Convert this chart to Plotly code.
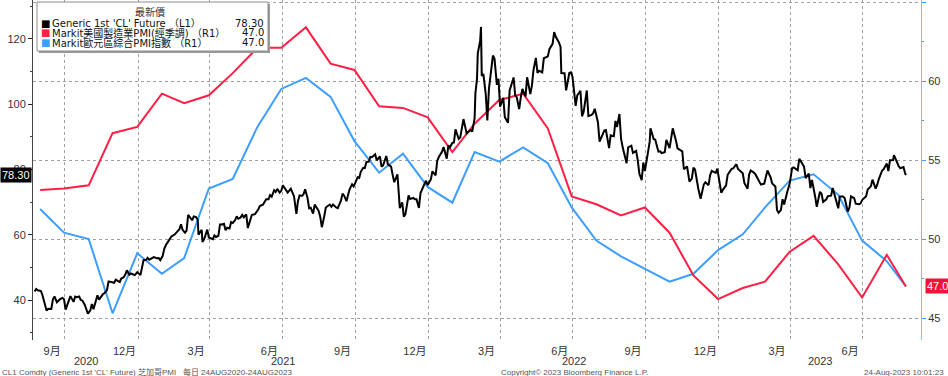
import plotly.graph_objects as go
import pandas as pd

# ---------------- data ----------------
oil_dates = [
"2020-08-24","2020-08-26","2020-08-28","2020-09-01","2020-09-03","2020-09-08","2020-09-10","2020-09-14","2020-09-16","2020-09-18",
"2020-09-21","2020-09-23","2020-09-25","2020-09-28","2020-09-30","2020-10-02","2020-10-06","2020-10-08","2020-10-12","2020-10-14",
"2020-10-16","2020-10-19","2020-10-21","2020-10-23","2020-10-26","2020-10-28","2020-10-30","2020-11-02","2020-11-04","2020-11-06",
"2020-11-09","2020-11-11","2020-11-13","2020-11-16","2020-11-18","2020-11-20","2020-11-23","2020-11-25","2020-11-30","2020-12-02",
"2020-12-04","2020-12-07","2020-12-09","2020-12-11","2020-12-14","2020-12-16","2020-12-18","2020-12-21","2020-12-23","2020-12-28",
"2020-12-31",
"2021-01-04","2021-01-06","2021-01-08","2021-01-11","2021-01-13","2021-01-15","2021-01-19","2021-01-21","2021-01-25","2021-01-27",
"2021-01-29","2021-02-01","2021-02-03","2021-02-05","2021-02-08","2021-02-10","2021-02-12","2021-02-16","2021-02-18","2021-02-22",
"2021-02-24","2021-02-26","2021-03-01","2021-03-03","2021-03-05","2021-03-08","2021-03-10","2021-03-12","2021-03-15","2021-03-17",
"2021-03-18","2021-03-22","2021-03-23","2021-03-25","2021-03-29","2021-03-31","2021-04-05","2021-04-07","2021-04-09","2021-04-12",
"2021-04-14","2021-04-16","2021-04-19","2021-04-21","2021-04-23","2021-04-26","2021-04-28","2021-04-30","2021-05-03","2021-05-05",
"2021-05-07","2021-05-10","2021-05-12","2021-05-14","2021-05-17","2021-05-19","2021-05-21","2021-05-24","2021-05-26","2021-05-28",
"2021-06-01","2021-06-03","2021-06-07","2021-06-09","2021-06-11","2021-06-14","2021-06-16","2021-06-18","2021-06-21","2021-06-23",
"2021-06-25","2021-06-28","2021-06-30","2021-07-02","2021-07-06","2021-07-08","2021-07-12","2021-07-14","2021-07-16","2021-07-19",
"2021-07-21","2021-07-23","2021-07-26","2021-07-28","2021-07-30","2021-08-02","2021-08-04","2021-08-06","2021-08-09","2021-08-11",
"2021-08-13","2021-08-16","2021-08-18","2021-08-20","2021-08-23","2021-08-25","2021-08-27","2021-08-30","2021-09-01","2021-09-03",
"2021-09-07","2021-09-09","2021-09-13","2021-09-15","2021-09-17","2021-09-20","2021-09-22","2021-09-24","2021-09-27","2021-09-29",
"2021-10-01","2021-10-04","2021-10-06","2021-10-08","2021-10-11","2021-10-13","2021-10-15","2021-10-18","2021-10-20","2021-10-22",
"2021-10-26","2021-10-28","2021-11-01","2021-11-03","2021-11-05","2021-11-09","2021-11-11","2021-11-15","2021-11-17","2021-11-19",
"2021-11-23","2021-11-26","2021-11-29","2021-12-01","2021-12-03","2021-12-07","2021-12-09","2021-12-13","2021-12-15","2021-12-17",
"2021-12-20","2021-12-22","2021-12-27","2021-12-29","2021-12-31",
"2022-01-04","2022-01-06","2022-01-10","2022-01-12","2022-01-14","2022-01-18","2022-01-20","2022-01-24","2022-01-26","2022-01-28",
"2022-01-31","2022-02-02","2022-02-04","2022-02-08","2022-02-10","2022-02-14","2022-02-16","2022-02-18","2022-02-23","2022-02-25",
"2022-02-28","2022-03-01","2022-03-03","2022-03-04","2022-03-07","2022-03-08","2022-03-09","2022-03-11","2022-03-14","2022-03-16",
"2022-03-18","2022-03-21","2022-03-23","2022-03-25","2022-03-28","2022-03-30","2022-04-01","2022-04-05","2022-04-07","2022-04-11",
"2022-04-13","2022-04-18","2022-04-20","2022-04-22","2022-04-25","2022-04-27","2022-04-29","2022-05-03","2022-05-05","2022-05-09",
"2022-05-11","2022-05-13","2022-05-16","2022-05-18","2022-05-20","2022-05-24","2022-05-26","2022-05-31","2022-06-02","2022-06-06",
"2022-06-08","2022-06-10","2022-06-14","2022-06-16","2022-06-17","2022-06-21","2022-06-23","2022-06-27","2022-06-29","2022-07-01",
"2022-07-05","2022-07-07","2022-07-11","2022-07-13","2022-07-15","2022-07-19","2022-07-21","2022-07-25","2022-07-27","2022-07-29",
"2022-08-02","2022-08-04","2022-08-08","2022-08-10","2022-08-12","2022-08-16","2022-08-18","2022-08-22","2022-08-24","2022-08-26",
"2022-08-29","2022-08-31","2022-09-02","2022-09-07","2022-09-09","2022-09-13","2022-09-15","2022-09-19","2022-09-21","2022-09-23",
"2022-09-26","2022-09-28","2022-09-30","2022-10-04","2022-10-06","2022-10-07","2022-10-11","2022-10-13","2022-10-17","2022-10-19",
"2022-10-21","2022-10-25","2022-10-27","2022-10-31","2022-11-02","2022-11-04","2022-11-08","2022-11-10","2022-11-14","2022-11-16",
"2022-11-18","2022-11-22","2022-11-25","2022-11-28","2022-11-30","2022-12-02","2022-12-06","2022-12-08","2022-12-09","2022-12-13",
"2022-12-15","2022-12-19","2022-12-21","2022-12-23","2022-12-28","2022-12-30",
"2023-01-04","2023-01-06","2023-01-10","2023-01-12","2023-01-17","2023-01-19","2023-01-23","2023-01-25","2023-01-27","2023-01-31",
"2023-02-02","2023-02-06","2023-02-08","2023-02-10","2023-02-14","2023-02-16","2023-02-21","2023-02-23","2023-02-27","2023-03-01",
"2023-03-03","2023-03-07","2023-03-09","2023-03-13","2023-03-15","2023-03-17","2023-03-20","2023-03-22","2023-03-24","2023-03-28",
"2023-03-31","2023-04-03","2023-04-05","2023-04-10","2023-04-12","2023-04-14","2023-04-18","2023-04-20","2023-04-24","2023-04-26",
"2023-04-28","2023-05-02","2023-05-04","2023-05-08","2023-05-10","2023-05-12","2023-05-16","2023-05-18","2023-05-22","2023-05-24",
"2023-05-26","2023-05-31","2023-06-02","2023-06-06","2023-06-08","2023-06-12","2023-06-14","2023-06-16","2023-06-20","2023-06-22",
"2023-06-26","2023-06-28","2023-06-30","2023-07-05","2023-07-07","2023-07-11","2023-07-13","2023-07-17","2023-07-19","2023-07-21",
"2023-07-25","2023-07-27","2023-07-31","2023-08-02","2023-08-04","2023-08-08","2023-08-09","2023-08-11","2023-08-15","2023-08-17",
"2023-08-21","2023-08-23","2023-08-24",
]
oil_prices = [
42.62,43.39,42.97,42.76,41.37,36.76,37.30,37.26,40.16,41.11,
39.31,39.93,40.25,40.60,40.22,37.05,39.57,41.19,39.43,41.04,
40.88,41.06,40.03,39.85,38.56,37.39,35.79,36.81,38.79,37.14,
40.29,41.45,40.13,41.34,41.82,42.15,43.06,45.71,45.34,45.28,
46.26,45.76,45.52,46.57,46.99,47.82,49.10,47.74,48.12,47.62,
48.52,
47.62,50.63,52.24,52.25,52.91,52.36,52.98,53.13,52.77,52.85,
52.20,53.55,55.69,56.85,57.97,58.68,59.47,60.05,60.52,61.70,
63.22,61.50,60.64,61.28,66.09,65.05,64.44,65.61,65.39,64.60,
60.00,61.55,57.76,58.56,61.56,59.16,58.65,59.77,59.32,59.70,
63.15,63.13,63.38,61.35,62.14,61.91,63.86,63.58,64.49,65.63,
64.90,65.32,66.08,65.37,66.27,62.05,63.58,66.05,66.21,66.32,
67.72,68.81,69.23,70.00,70.91,70.88,72.15,71.64,73.66,73.08,
74.05,72.91,73.47,75.16,73.37,72.94,74.10,73.13,71.81,66.42,
70.30,72.07,71.91,72.39,73.95,71.26,68.15,68.28,66.48,69.25,
68.44,67.29,65.46,62.32,65.64,68.36,68.74,69.21,68.59,69.29,
68.35,68.14,70.45,72.61,71.97,70.29,72.23,73.98,75.45,74.83,
75.88,77.62,77.43,79.35,80.52,80.44,82.28,82.44,83.87,83.76,
84.65,82.81,84.05,80.86,81.27,84.15,81.59,80.88,78.36,76.10,
78.50,68.15,69.95,65.57,66.26,72.05,70.94,71.29,70.87,70.86,
68.23,72.76,75.57,76.56,75.21,
76.99,79.46,78.23,82.64,83.82,85.43,86.90,83.31,87.35,86.82,
88.15,88.26,92.31,89.36,89.88,95.46,93.66,91.07,92.10,91.59,
95.72,103.41,107.67,115.68,119.40,123.70,108.70,109.33,103.01,95.04,
104.70,112.12,114.93,113.90,105.96,107.82,99.27,102.00,96.03,94.29,
104.25,108.21,102.75,102.07,98.54,102.02,104.69,102.41,108.26,103.09,
105.71,110.49,114.20,109.59,110.28,109.77,114.09,114.67,116.87,118.50,
122.11,120.67,118.93,117.59,109.56,109.52,104.27,109.57,109.78,108.43,
99.50,102.73,104.09,96.30,97.59,104.22,96.35,96.70,97.26,98.62,
94.42,88.54,90.76,91.93,92.09,86.53,90.50,90.23,94.89,93.06,
97.01,89.55,86.87,81.94,86.79,87.31,85.10,85.73,82.94,78.74,
76.71,82.15,79.49,86.52,88.45,92.64,89.35,89.11,85.46,85.55,
85.05,85.32,89.08,86.53,89.99,92.61,88.91,86.47,85.87,85.59,
80.08,80.95,76.28,77.24,80.55,79.98,74.25,71.46,71.02,75.39,
76.11,75.19,78.29,79.56,78.96,80.26,
72.84,73.77,75.12,78.39,80.18,80.33,81.62,80.15,79.68,78.87,
75.88,74.11,78.47,79.72,79.06,78.49,76.16,75.39,75.68,77.69,
79.68,77.58,75.72,74.80,67.61,66.74,67.64,70.90,69.26,73.20,
75.67,80.42,80.61,79.74,83.26,82.52,80.86,77.37,78.76,74.30,
76.78,71.66,68.56,73.16,72.56,70.04,70.86,71.86,71.99,74.34,
72.67,68.09,71.74,71.74,71.29,67.12,68.27,71.78,71.19,69.51,
69.37,69.56,70.64,71.79,73.86,74.83,76.89,74.15,75.35,77.07,
79.63,80.09,81.80,79.49,82.82,82.92,84.40,83.19,80.99,80.39,
80.72,78.89,78.30,
]

pmi_dates = list(pd.date_range("2020-08-31", "2023-07-31", freq="ME").strftime("%Y-%m-%d")) + ["2023-08-24"]
us_pmi = [53.1, 53.2, 53.4, 56.7, 57.1,
          59.2, 58.6, 59.1, 60.5, 62.1, 62.1, 63.4, 61.1, 60.7, 58.4, 58.3, 57.7,
          55.5, 57.3, 58.8, 59.2, 57.0, 52.7, 52.2, 51.5, 52.0, 50.4, 47.7, 46.2,
          46.9, 47.3, 49.2, 50.2, 48.4, 46.3, 49.0, 47.0]
ez_pmi = [51.9, 50.4, 50.0, 45.3, 49.1,
          47.8, 48.8, 53.2, 53.8, 57.1, 59.5, 60.2, 59.0, 56.2, 54.2, 55.4, 53.3,
          52.3, 55.5, 54.9, 55.8, 54.8, 52.0, 49.9, 48.9, 48.1, 47.3, 47.8, 49.3,
          50.3, 52.0, 53.7, 54.1, 52.8, 49.9, 48.6, 47.0]

month_tick_dates = ["2020-09-15", "2020-12-15", "2021-03-15", "2021-06-15", "2021-09-15", "2021-12-15",
                    "2022-03-15", "2022-06-15", "2022-09-15", "2022-12-15", "2023-03-15", "2023-06-15"]
month_tick_labels = ["9月", "12月", "3月", "6月", "9月", "12月", "3月", "6月", "9月", "12月", "3月", "6月"]
grid_dates = ["2020-10-01", "2021-01-01", "2021-04-01", "2021-07-01", "2021-10-01", "2022-01-01",
              "2022-04-01", "2022-07-01", "2022-10-01", "2023-01-01", "2023-04-01", "2023-07-01"]
year_labels = ["2020", "2021", "2022", "2023"]

series_names = ["Generic 1st 'CL' Future （L1）",
                "Markit美國製造業PMI(經季調) （R1）",
                "Markit歐元區綜合PMI指數 （R1）"]
legend_title = "最新價"
footer_left = "CL1 Comdty (Generic 1st 'CL' Future) 芝加哥PMI\u00a0\u00a0\u00a0每日 24AUG2020-24AUG2023"
footer_mid = "Copyright\u00a9 2023 Bloomberg Finance L.P."
footer_right = "24-Aug-2023 10:01:23"

# ---------------- style ----------------
BLACK = "#000000"
RED = "#ff1f44"
BLUE = "#3d9eff"
GRID = "#a0a0a0"
TXT = "#333333"
FONT = "Liberation Sans, Noto Sans CJK TC, sans-serif"
LEG_FONT = "DejaVu Sans, Noto Sans CJK TC, sans-serif"

x_min, x_max = "2020-08-22", "2023-09-12"
L, R, T, B = 33, 27, 0, 36
W, H = 948, 376
PW, PH = W - L - R, H - T - B

def px_x(px):
    return (px - L) / PW

def px_y(py):
    return (H - B - py) / PH

fig = go.Figure()
fig.add_trace(go.Scatter(x=pmi_dates, y=ez_pmi, mode="lines", line=dict(color=BLUE, width=2),
                         yaxis="y", hoverinfo="skip", showlegend=False))
fig.add_trace(go.Scatter(x=pmi_dates, y=us_pmi, mode="lines", line=dict(color=RED, width=2),
                         yaxis="y", hoverinfo="skip", showlegend=False))
fig.add_trace(go.Scatter(x=oil_dates, y=oil_prices, mode="lines", line=dict(color=BLACK, width=2),
                         yaxis="y2", hoverinfo="skip", showlegend=False))

fig.update_layout(
    width=W, height=H,
    margin=dict(l=L, r=R, t=T, b=B, pad=0),
    paper_bgcolor="white", plot_bgcolor="white",
    font=dict(family=FONT, size=11, color=TXT),
    showlegend=False,
    xaxis=dict(type="date", range=[x_min, x_max], tickmode="array",
               tickvals=month_tick_dates, ticktext=month_tick_labels,
               ticks="", showgrid=False, showline=False, zeroline=False,
               ticklabelstandoff=3,
               tickfont=dict(size=11, color=TXT), automargin=False,
               minor=dict(tickmode="array", tickvals=grid_dates, showgrid=True,
                          gridcolor=GRID, griddash="dot", gridwidth=1, ticks="")),
    yaxis=dict(side="right", range=[43.61, 65.13], tickmode="array",
               tickvals=[45, 50, 55, 60, 65], ticktext=["45", "50", "55", "60", ""],
               ticks="outside", ticklen=4, tickcolor=BLUE, tickwidth=1,
               showline=True, linecolor="#7fbfff", linewidth=1,
               showgrid=True, gridcolor=GRID, griddash="dot", gridwidth=1,
               zeroline=False, automargin=False, tickfont=dict(size=11, color=TXT),
               minor=dict(tickmode="linear", tick0=45, dtick=2.5, ticks="outside",
                          ticklen=2, tickcolor=BLUE, showgrid=False)),
    yaxis2=dict(overlaying="y", side="left", range=[27.74, 131.95], tickmode="array",
                tickvals=[40, 60, 80, 100, 120],
                ticks="outside", ticklen=4, tickcolor="#222", tickwidth=1,
                showline=True, linecolor="#444", linewidth=1, showgrid=False,
                zeroline=False, automargin=False, tickfont=dict(size=11, color=TXT),
                minor=dict(tickmode="linear", tick0=30, dtick=10, ticks="outside",
                           ticklen=2, tickcolor="#444", showgrid=False)),
)

annotations = []
# year labels centred on the visible part of each year
xmin_ts, xmax_ts = pd.Timestamp(x_min), pd.Timestamp(x_max)
for yl in year_labels:
    s = max(pd.Timestamp(f"{yl}-01-01"), xmin_ts)
    e = min(pd.Timestamp(f"{int(yl)+1}-01-01"), xmax_ts)
    mid = s + (e - s) / 2
    annotations.append(dict(x=mid.strftime("%Y-%m-%d %H:%M"), xref="x", y=0, yref="paper",
                            yshift=-21, yanchor="middle", text=yl, showarrow=False,
                            font=dict(size=11, color=TXT)))

# last-value tags
annotations.append(dict(x=0, xref="paper", y=oil_prices[-1], yref="y2", xanchor="right",
                        yanchor="middle", text=f"{oil_prices[-1]:.2f}", showarrow=False,
                        bgcolor="#000000", font=dict(size=11, color="white"),
                        borderpad=1, xshift=-1))
annotations.append(dict(x=1, xref="paper", y=us_pmi[-1], yref="y", xanchor="left",
                        yanchor="middle", text=f"{us_pmi[-1]:.1f}", showarrow=False,
                        bgcolor="#f0143c", font=dict(size=11, color="white"),
                        borderpad=1, xshift=4))

# legend box
shapes = [
    dict(type="rect", xref="paper", yref="paper", x0=px_x(39), x1=px_x(270), y0=px_y(53), y1=px_y(4),
         fillcolor="#9a9a9a", line=dict(width=0), layer="above"),
    dict(type="rect", xref="paper", yref="paper", x0=px_x(37), x1=px_x(268), y0=px_y(51), y1=px_y(2),
         fillcolor="white", line=dict(color="#8c8c8c", width=1), layer="above"),
]
annotations.append(dict(x=px_x(150), xref="paper", y=px_y(12.5), yref="paper", text=legend_title,
                        showarrow=False, xanchor="center", yanchor="middle",
                        font=dict(size=10, color=TXT, family=LEG_FONT)))
legend_vals = [f"{oil_prices[-1]:.2f}", f"{us_pmi[-1]:.1f}", f"{ez_pmi[-1]:.1f}"]
legend_cols = [BLACK, RED, BLUE]
for i, (nm, val, col) in enumerate(zip(series_names, legend_vals, legend_cols)):
    yy = px_y(23.5 + i * 9.5)
    annotations.append(dict(x=px_x(40), xref="paper", y=yy, yref="paper", text="■",
                            showarrow=False, xanchor="left", yanchor="middle",
                            font=dict(size=10, color=col, family=LEG_FONT), borderpad=0))
    annotations.append(dict(x=px_x(51), xref="paper", y=yy, yref="paper", text=nm,
                            showarrow=False, xanchor="left", yanchor="middle",
                            font=dict(size=10, color="#111", family=LEG_FONT), borderpad=0))
    annotations.append(dict(x=px_x(265), xref="paper", y=yy, yref="paper", text=val,
                            showarrow=False, xanchor="right", yanchor="middle",
                            font=dict(size=10, color="#111", family=LEG_FONT), borderpad=0))

# footer
annotations.append(dict(x=-L / PW, xref="paper", y=0, yref="paper", yshift=-32, text=footer_left,
                        showarrow=False, xanchor="left", yanchor="middle",
                        font=dict(size=8, color="#555")))
annotations.append(dict(x=px_x(499), xref="paper", y=0, yref="paper", yshift=-32, text=footer_mid,
                        showarrow=False, xanchor="left", yanchor="middle",
                        font=dict(size=8, color="#555")))
annotations.append(dict(x=px_x(946), xref="paper", y=0, yref="paper", yshift=-32, text=footer_right,
                        showarrow=False, xanchor="right", yanchor="middle",
                        font=dict(size=8, color="#555")))

fig.update_layout(annotations=annotations, shapes=shapes)
fig.write_html("out.html", config={"displayModeBar": False},
               post_script="document.body.style.margin='0px';")
